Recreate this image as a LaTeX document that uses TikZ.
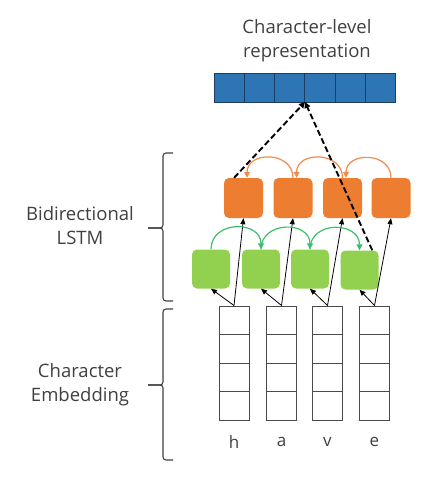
\documentclass[tikz,border=0pt]{standalone}
\usepackage{fontspec}
\setmainfont{Open Sans}
\usetikzlibrary{arrows.meta,calc}
\definecolor{txt}{HTML}{404040}
\definecolor{cblue}{HTML}{2E75B6}
\definecolor{cblueb}{HTML}{1F3D5C}
\definecolor{corange}{HTML}{ED7D31}
\definecolor{carco}{HTML}{F28A4C}
\definecolor{cgreen}{HTML}{92D050}
\definecolor{carcg}{HTML}{3DBE6E}
\definecolor{cgrid}{HTML}{4A4A4A}
\begin{document}
\begin{tikzpicture}[x=1pt,y=-1pt,
  lbl/.style={text=txt,align=center,font=\fontsize{18.5}{24}\selectfont},
  cell/.style={draw=cblueb,fill=cblue,line width=1pt,minimum width=30.33pt,minimum height=29pt,inner sep=0pt,outer sep=0pt},
  obox/.style={fill=corange,rounded corners=5pt,minimum width=39pt,minimum height=40pt,inner sep=0pt},
  gbox/.style={fill=cgreen,rounded corners=5pt,minimum width=38pt,minimum height=39pt,inner sep=0pt},
  emb/.style={draw=cgrid,line width=1pt,minimum width=30pt,minimum height=114pt,inner sep=0pt},
  letter/.style={text=txt,font=\fontsize{17}{20}\selectfont},
  thinarrow/.style={draw=black,line width=0.8pt,-{Triangle[length=6pt,width=5pt]}},
  oarc/.style={draw=carco,line width=1.2pt,-{Triangle[length=6pt,width=6pt]},looseness=1.5},
  garc/.style={draw=carcg,line width=1.2pt,-{Triangle[length=6pt,width=6pt]},looseness=1.5},
  dasharrow/.style={draw=black,line width=1.9pt,dash pattern=on 6pt off 3pt,-{Triangle[length=6pt,width=6pt]}},
  bracket/.style={draw=txt,line width=1.1pt,rounded corners=3pt}
]
\useasboundingbox (0,0) rectangle (434,483);

% title
\node[lbl] (title) at (307,41) {Character-level\\representation};

% blue bar
\foreach \i in {1,...,6}{
  \node[cell] (c\i) at ({214+15.17+30.33*(\i-1)},87.5) {};
}

% embedding columns
\foreach \i/\x/\l in {1/234/h,2/281.5/a,3/327.5/v,4/374.5/e}{
  \node[emb] (e\i) at (\x,363) {};
  \foreach \f in {0.25,0.5,0.75}{
    \draw[cgrid,line width=1pt] ($(e\i.north west)!\f!(e\i.south west)$) -- ($(e\i.north east)!\f!(e\i.south east)$);
  }
  \node[letter] (t\i) at (\x,442) {\l};
}

% green boxes
\node[gbox] (g1) at (211,269) {};
\node[gbox] (g2) at (261,269) {};
\node[gbox] (g3) at (310,269) {};
\node[gbox] (g4) at (359.5,270) {};

% orange boxes
\node[obox] (o1) at (243.5,198) {};
\node[obox] (o2) at (293,198) {};
\node[obox] (o3) at (342.5,198) {};
\node[obox] (o4) at (391,198) {};

% arrows from embeddings
\foreach \i in {1,...,4}{
  \draw[thinarrow] (e\i.north) -- (g\i.south);
  \draw[thinarrow] (e\i.north) -- (o\i.south);
}

% forward (green) arcs
\draw[garc] (g1.north) to[out=90,in=90] (g2.north);
\draw[garc] (g2.north) to[out=90,in=90] (g3.north);
\draw[garc] (g3.north) to[out=90,in=90] (g4.north);

% backward (orange) arcs
\draw[oarc] (o2.north) to[out=90,in=90] (o1.80);
\draw[oarc] (o3.north) to[out=90,in=90] (o2.80);
\draw[oarc] (o4.north) to[out=90,in=90] (o3.80);

% dashed arrows to representation
\draw[dasharrow] (o1.115) -- (c3.south east);
\draw[dasharrow] (g4.57) -- (c3.south east);

% brackets
\draw[bracket] (173,153) -- (163,153) -- (163,228) -- (148,228);
\draw[bracket] (148,228) -- (163,228) -- (163,301) -- (173,301);
\draw[bracket] (173,309) -- (163,309) -- (163,385) -- (148,385);
\draw[bracket] (148,385) -- (163,385) -- (163,460) -- (173,460);

% labels
\node[lbl] (bl) at (80,226) {Bidirectional\\LSTM};
\node[lbl] (ce) at (80,385) {Character\\Embedding};
\end{tikzpicture}
\end{document}
